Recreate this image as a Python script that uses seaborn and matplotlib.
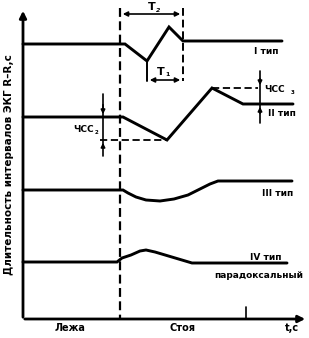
import matplotlib
matplotlib.use("Agg")
import matplotlib.pyplot as plt
import seaborn as sns
import pandas as pd

# Schematic curves (x: time position, y: R-R interval level, drawing units; y grows downward)
type1_x = [23, 125, 147, 169, 183, 282]
type1_y = [44, 44, 61, 27, 41, 41]
type2_x = [23, 123, 167, 212, 243, 293]
type2_y = [117, 117, 140, 88, 104, 104]
type3_x = [23, 123, 128, 136, 146, 160, 174, 188, 200, 210, 218, 292]
type3_y = [190, 190, 193, 197, 200, 201, 199, 195, 189, 184, 181, 181]
type4_x = [23, 117, 122, 131, 140, 146, 155, 192, 287]
type4_y = [262, 262, 258, 255, 251, 250, 252, 263, 263]

series_labels = ["I тип", "II тип", "III тип", "IV тип"]
x_labels = ["Лежа", "Стоя", "t,c"]
y_label = "Длительность интервалов ЭКГ R–R,с"

sns.set_style("white")
plt.rcParams['font.family'] = ['DejaVu Sans']
plt.rcParams['text.color'] = 'black'

fig = plt.figure(figsize=(3.09, 3.38), dpi=100)
ax = fig.add_axes([0, 0, 1, 1])
ax.set_xlim(0, 309)
ax.set_ylim(338, 0)
ax.axis("off")

for xs, ys in [(type1_x, type1_y), (type2_x, type2_y), (type3_x, type3_y), (type4_x, type4_y)]:
    df = pd.DataFrame({"x": xs, "y": ys})
    sns.lineplot(data=df, x="x", y="y", sort=False, color="black", lw=2.1, ax=ax,
                 solid_joinstyle="miter")
ax.axis("off")

# axes
ax.annotate("", xy=(23, 8), xytext=(23, 320),
            arrowprops=dict(arrowstyle="-|>", lw=2, color="black", mutation_scale=10))
ax.annotate("", xy=(308, 319), xytext=(22, 319),
            arrowprops=dict(arrowstyle="-|>", lw=2, color="black", mutation_scale=10))
ax.plot([246, 246], [307, 319], color="black", lw=1.2)

# dashed verticals
ax.plot([120, 120], [8, 319], color="black", lw=1.6, ls=(0, (4, 2)))
ax.plot([183, 183], [8, 81], color="black", lw=1.4, ls=(0, (4, 2)))
ax.plot([147, 147], [61, 81], color="black", lw=1.4)

# T2 and T1 arrows
ax.annotate("", xy=(120, 14), xytext=(183, 14),
            arrowprops=dict(arrowstyle="<|-|>", lw=1.2, color="black", mutation_scale=7))
ax.text(152, 7, "T", fontsize=8, fontweight="bold", ha="center", va="center")
ax.text(158, 10, "2", fontsize=4.5, fontweight="bold", ha="center", va="center", style="italic")
ax.annotate("", xy=(147, 80), xytext=(183, 80),
            arrowprops=dict(arrowstyle="<|-|>", lw=1.2, color="black", mutation_scale=7))
ax.text(161, 72, "T", fontsize=8, fontweight="bold", ha="center", va="center")
ax.text(167, 75, "1", fontsize=4.5, fontweight="bold", ha="center", va="center")

# ЧСС3
ax.plot([212, 258], [88, 88], color="black", lw=1.3, ls=(0, (4, 2)))
ax.plot([260, 260], [71, 123], color="black", lw=1.2)
ax.annotate("", xy=(260, 88), xytext=(260, 76),
            arrowprops=dict(arrowstyle="-|>", lw=1.2, color="black", mutation_scale=6))
ax.annotate("", xy=(260, 104), xytext=(260, 116),
            arrowprops=dict(arrowstyle="-|>", lw=1.2, color="black", mutation_scale=6))
ax.text(264, 89, "ЧСС", fontsize=6.5, fontweight="bold", ha="left", va="center")
ax.text(291, 92, "3", fontsize=4, fontweight="bold", ha="left", va="center")

# ЧСС2
ax.plot([100, 167], [140, 140], color="black", lw=1.3, ls=(0, (4, 2)))
ax.plot([103, 103], [94, 156], color="black", lw=1.2)
ax.annotate("", xy=(103, 117), xytext=(103, 102),
            arrowprops=dict(arrowstyle="-|>", lw=1.2, color="black", mutation_scale=6))
ax.annotate("", xy=(103, 140), xytext=(103, 150),
            arrowprops=dict(arrowstyle="-|>", lw=1.2, color="black", mutation_scale=6))
ax.text(73, 129, "ЧСС", fontsize=6.5, fontweight="bold", ha="left", va="center")
ax.text(95, 132, "2", fontsize=4, fontweight="bold", ha="left", va="center")

# series labels
lab_pos = [(254, 52), (268, 114), (262, 193), (250, 257)]
for (lx, ly), s in zip(lab_pos, series_labels):
    ax.text(lx, ly, s, fontsize=6.5, fontweight="bold", ha="left", va="center")
ax.text(214, 275, "парадоксальный", fontsize=6.5, fontweight="bold", ha="left", va="center")

# x labels
for (lx, s) in zip([70, 182, 292], x_labels):
    ax.text(lx, 328, s, fontsize=7, fontweight="bold", ha="center", va="center")

ax.text(9, 165, y_label, fontsize=7.5, fontweight="bold", rotation=90, ha="center", va="center")

fig.savefig("out.png", dpi=100)
